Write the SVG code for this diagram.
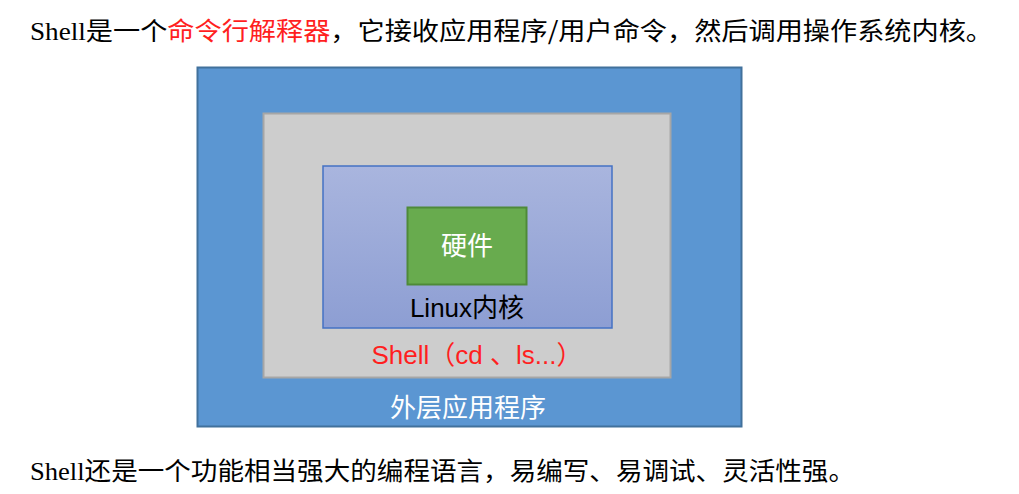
<svg xmlns="http://www.w3.org/2000/svg" width="1019" height="494" viewBox="0 0 1019 494">
<defs>
<linearGradient id="kgrad" x1="0" y1="0" x2="0" y2="1">
<stop offset="0" stop-color="#A9B5DE"/>
<stop offset="1" stop-color="#8D9ED3"/>
</linearGradient>
<style>
.cap{font-family:"Liberation Serif","Noto Sans CJK SC",serif;font-size:25px;fill:#000}
.cjk{font-family:"Noto Sans CJK SC",sans-serif}
.lbl{font-family:"Liberation Sans","Noto Sans CJK SC",sans-serif;font-size:26px;text-anchor:middle}
</style>
</defs>
<rect width="1019" height="494" fill="#fff"/>
<g id="outer">
<rect x="197.5" y="67.5" width="544" height="359" fill="#5B96D2" stroke="#41719C" stroke-width="2"/>
<text class="lbl" x="468" y="417" fill="#fff">外层应用程序</text>
</g>
<g id="shell">
<rect x="263.5" y="113.5" width="407" height="264" fill="#CDCDCD" stroke="#A6A6A6" stroke-width="2"/>
<text class="lbl" x="477" y="364" fill="#FF1F1F">Shell（cd 、ls...）</text>
</g>
<g id="kernel">
<rect x="323" y="166" width="289" height="162" fill="url(#kgrad)" stroke="#4472C4" stroke-width="1.5"/>
<text class="lbl" x="467" y="317" fill="#000">Linux内核</text>
</g>
<g id="hardware">
<rect x="407.5" y="207.5" width="119" height="77" fill="#68AB4E" stroke="#4E8A38" stroke-width="2"/>
<text class="lbl" x="467" y="255" fill="#fff">硬件</text>
</g>
<g id="connectors"></g>
<text class="cap" x="30" y="40" textLength="963" lengthAdjust="spacingAndGlyphs">Shell<tspan class="cjk">是一个</tspan><tspan class="cjk" fill="#FF1F1F">命令行解释器</tspan><tspan class="cjk">，它接收应用程序/用户命令，然后调用操作系统内核。</tspan></text>
<text class="cap" x="30" y="480" textLength="825" lengthAdjust="spacingAndGlyphs">Shell<tspan class="cjk">还是一个功能相当强大的编程语言，易编写、易调试、灵活性强。</tspan></text>
</svg>
